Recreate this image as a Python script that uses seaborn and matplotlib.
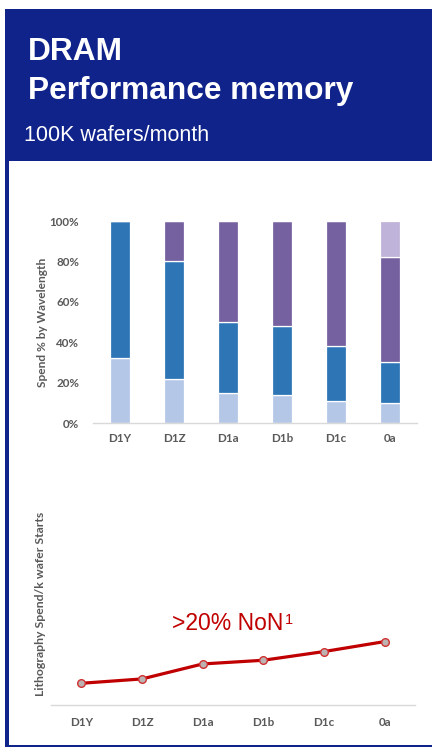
import matplotlib
matplotlib.use("Agg")
import matplotlib.pyplot as plt
import seaborn as sns
import pandas as pd
import numpy as np
from matplotlib.patches import Rectangle

# ---- data ----
nodes = ["D1Y", "D1Z", "D1a", "D1b", "D1c", "0a"]
# spend share by wavelength (%), stacked bottom to top
share_light_blue = [32, 22, 15, 14, 11, 10]
share_blue = [68, 58, 35, 34, 27, 20]
share_purple = [0, 20, 50, 52, 62, 52]
share_light_purple = [0, 0, 0, 0, 0, 18]
pct_ticks = [0, 20, 40, 60, 80, 100]
pct_labels = ["0%", "20%", "40%", "60%", "80%", "100%"]
# lithography spend per k wafer starts (relative to D1Y)
litho_spend = [1.0, 1.2, 1.89, 2.06, 2.46, 2.92]

title_1 = "DRAM"
title_2 = "Performance memory"
subtitle = "100K wafers/month"
bar_ylabel = "Spend % by Wavelength"
line_ylabel = "Lithography Spend/k wafer Starts"
callout = ">20% NoN"
callout_sup = "1"

# ---- styling ----
sns.set_theme(style="white")
plt.rcParams["font.family"] = ["Lato", "DejaVu Sans"]

W, H = 432, 747
DPI = 100
fig = plt.figure(figsize=(W / DPI, H / DPI), dpi=DPI)
fig.patch.set_facecolor("white")

NAVY = "#10238B"
GRAY_TXT = "#595959"
AXIS_GRAY = "#D9D9D9"
RED = "#C00000"


def px_box(x0, y0, x1, y1):
    """figure-fraction rect from pixel coords (y measured from top)."""
    return [x0 / W, 1 - y1 / H, (x1 - x0) / W, (y1 - y0) / H]


# frame: header band, left rule and bottom rule
fig.add_artist(Rectangle((5 / W, 1 - 161 / H), (W - 5) / W, 152 / H,
                         transform=fig.transFigure, color=NAVY, lw=0, zorder=0))
fig.add_artist(Rectangle((5 / W, 0), 4 / W, 1 - 161 / H,
                         transform=fig.transFigure, color=NAVY, lw=0, zorder=0))
fig.add_artist(Rectangle((5 / W, 0), (W - 5) / W, 2.5 / H,
                         transform=fig.transFigure, color=NAVY, lw=0, zorder=0))

hdr_font = ["Liberation Sans", "DejaVu Sans"]
fig.text(27.5 / W, 1 - 60 / H, title_1, color="white", fontsize=22.8,
         fontweight="bold", family=hdr_font, va="baseline", ha="left")
fig.text(27.5 / W, 1 - 98.5 / H, title_2, color="white", fontsize=22.8,
         fontweight="bold", family=hdr_font, va="baseline", ha="left")
fig.text(24 / W, 1 - 141 / H, subtitle, color="white", fontsize=15.5,
         family=hdr_font, va="baseline", ha="left")

# ---- stacked bar chart ----
ax1 = fig.add_axes(px_box(93, 221, 417, 423))
df = pd.DataFrame({
    "node": nodes,
    "light_blue": share_light_blue,
    "blue": share_blue,
    "purple": share_purple,
    "light_purple": share_light_purple,
})
layers = [("light_blue", "#B4C7E7"), ("blue", "#2E75B6"),
          ("purple", "#7661A0"), ("light_purple", "#BFB3DA")]
bottom = np.zeros(len(nodes))
for col, colr in layers:
    sns.barplot(data=df, x="node", y=col, color=colr, width=0.37,
                bottom=bottom, edgecolor="white", linewidth=0.9,
                saturation=1, ax=ax1)
    bottom = bottom + df[col].to_numpy()

ax1.set_ylim(0, 100)
ax1.set_xlim(-0.5, len(nodes) - 0.5)
ax1.set_yticks(pct_ticks)
ax1.set_yticklabels(pct_labels)
ax1.set_xlabel("")
ax1.set_ylabel(bar_ylabel, color=GRAY_TXT, fontsize=8.6, fontweight="bold")
ax1.yaxis.set_label_coords(-0.138, 0.5)
ax1.tick_params(axis="both", length=0, colors=GRAY_TXT, labelsize=8.4)
ax1.tick_params(axis="y", pad=10)
ax1.tick_params(axis="x", pad=7)
for lab in ax1.get_xticklabels() + ax1.get_yticklabels():
    lab.set_fontweight("bold")
for s in ["top", "right", "left"]:
    ax1.spines[s].set_visible(False)
ax1.spines["bottom"].set_color(AXIS_GRAY)
ax1.spines["bottom"].set_linewidth(1.0)
ax1.set_facecolor("none")

# ---- line chart ----
ax2 = fig.add_axes(px_box(51, 503, 415, 705))
ldf = pd.DataFrame({"node": nodes, "spend": litho_spend})
sns.lineplot(data=ldf, x="node", y="spend", color=RED, linewidth=2.3,
             marker="o", markersize=5.5, markerfacecolor="#BDB2B2",
             markeredgecolor="#D03030", markeredgewidth=1.0, ax=ax2)
ax2.set_xlim(-0.5, len(nodes) - 0.5)
ax2.set_ylim(0, 9.3)
ax2.set_yticks([])
ax2.set_xlabel("")
ax2.set_ylabel(line_ylabel, color=GRAY_TXT, fontsize=8.8, fontweight="bold")
ax2.yaxis.set_label_coords(-0.015, 0.5)
ax2.tick_params(axis="x", length=0, colors=GRAY_TXT, labelsize=8.4, pad=9)
for lab in ax2.get_xticklabels():
    lab.set_fontweight("bold")
for s in ["top", "right", "left"]:
    ax2.spines[s].set_visible(False)
ax2.spines["bottom"].set_color(AXIS_GRAY)
ax2.spines["bottom"].set_linewidth(1.0)
ax2.set_facecolor("none")

t = fig.text(172 / W, 1 - 630 / H, callout, color=RED, fontsize=16.5,
             family=hdr_font, va="baseline", ha="left")
ax2.annotate(callout_sup, xy=(1.0, 0.95), xycoords=t, color=RED,
             fontsize=10.5, family=hdr_font, va="top", ha="left",
             xytext=(1, 0), textcoords="offset points")

fig.savefig("out.png", dpi=DPI, facecolor="white")
